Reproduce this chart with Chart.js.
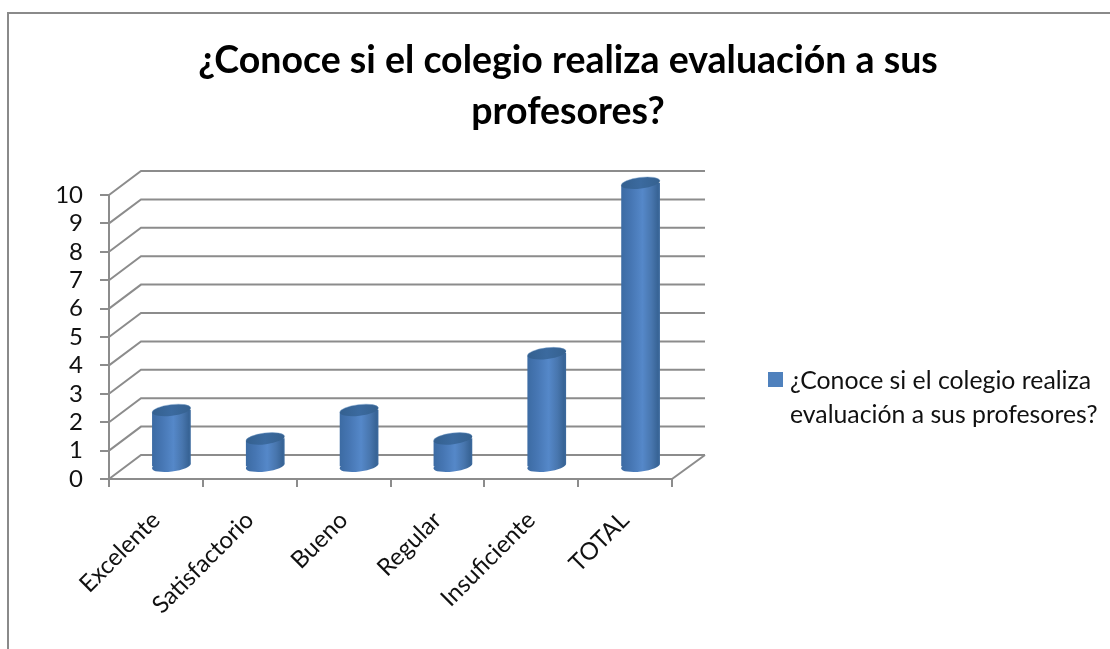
<!DOCTYPE html>
<html><head><meta charset="utf-8">
<script src="https://cdn.jsdelivr.net/npm/chart.js@4"></script>
<style>
html,body{margin:0;padding:0;background:#fff;overflow:hidden}
#frame{position:absolute;left:7px;top:12px;width:1200px;height:800px;border:2px solid #8a8a8a;box-sizing:border-box}
#c{position:absolute;left:26px;top:0}
</style></head><body>
<div id="frame"></div>
<canvas id="c" width="1084" height="649"></canvas>
<script>
const categories = ['Excelente','Satisfactorio','Bueno','Regular','Insuficiente','TOTAL'];
const values = [2,1,2,1,4,10];
const seriesName = '¿Conoce si el colegio realiza evaluación a sus profesores?';
const legendLines = ['¿Conoce si el colegio realiza','evaluación a sus profesores?'];
const titleLines = ['¿Conoce si el colegio realiza evaluación a sus','profesores?'];
const yTicks = [0,1,2,3,4,5,6,7,8,9,10];

const FONT = 'Lato, Carlito, sans-serif';
const GRID = '#8c8c8c';
const INK = '#111';
const DX = 32, DY = -24;          // depth of the floor
const SX = 15.5, SY = -12;        // bars stand mid-depth
const RX = 19.5, RY = 5.6, TILT = -7 * Math.PI / 180;

function endPoints(x, y) {
  const c = Math.cos(TILT) * RX, s = Math.sin(TILT) * RX;
  return {lx: x - c, ly: y - s, rx: x + c, ry: y + s};
}
function tracePath(ctx, bar) {
  const t = endPoints(bar.x, bar.y), b = endPoints(bar.x, bar.base);
  ctx.moveTo(t.lx, t.ly);
  ctx.lineTo(t.rx, t.ry);
  ctx.lineTo(b.rx, b.ry);
  ctx.lineTo(b.lx, b.ly);
  ctx.closePath();
}
function bodyGradient(ctx, px) {
  const g = ctx.createLinearGradient(px - RX, 0, px + RX, 0);
  g.addColorStop(0, '#3c6ba3');
  g.addColorStop(0.25, '#4676b3');
  g.addColorStop(0.55, '#5588c9');
  g.addColorStop(0.78, '#4876ae');
  g.addColorStop(0.94, '#386496');
  g.addColorStop(1, '#3d6b9f');
  return g;
}

const depthPlugin = {
  id: 'depth',
  beforeLayout(chart) {
    if (chart.$legendBox) return;
    const box = {
      position: 'right', weight: 0, fullSize: false, options: {},
      width: 412, height: 0, left: 0, right: 0, top: 0, bottom: 0,
      isHorizontal() { return false; },
      update(maxW, maxH) { this.width = 412 + 26; this.height = maxH; },
      draw() {}
    };
    chart.$legendBox = box;
    Chart.layouts.addBox(chart, box);
  },
  beforeDatasetsDraw(chart) {
    const {ctx, scales: {x, y}} = chart;
    ctx.save();
    ctx.strokeStyle = GRID;
    ctx.lineWidth = 2;
    ctx.lineJoin = 'miter';
    const L = x.left, R = x.right;
    yTicks.forEach(v => {
      const py = y.getPixelForValue(v);
      ctx.beginPath();
      ctx.moveTo(L, py);
      ctx.lineTo(L + DX, py + DY);
      ctx.lineTo(R + DX + 1, py + DY);
      ctx.stroke();
    });
    const p0 = y.getPixelForValue(0);
    ctx.beginPath();
    ctx.moveTo(R + DX + 1, p0 + DY);
    ctx.lineTo(R, p0);
    ctx.stroke();
    ctx.restore();
  },
  beforeDatasetDraw(chart, args) {
    const ctx = chart.ctx;
    ctx.save();
    ctx.translate(SX, SY);
    args.meta.data.forEach(bar => {
      ctx.fillStyle = bodyGradient(ctx, bar.x);
      ctx.beginPath();
      ctx.ellipse(bar.x, bar.base, RX, RY, TILT, 0, Math.PI * 2);
      ctx.fill();
    });
    ctx.beginPath();
    args.meta.data.forEach(bar => tracePath(ctx, bar));
    ctx.clip();
  },
  afterDatasetDraw(chart, args) {
    const ctx = chart.ctx;
    ctx.restore();
    ctx.save();
    ctx.translate(SX, SY);
    args.meta.data.forEach(bar => {
      const g = ctx.createLinearGradient(bar.x - RX, 0, bar.x + RX, 0);
      g.addColorStop(0, '#34608f');
      g.addColorStop(0.5, '#3b6a9f');
      g.addColorStop(1, '#35618f');
      ctx.fillStyle = g;
      ctx.beginPath();
      ctx.ellipse(bar.x, bar.y, RX, RY, TILT, 0, Math.PI * 2);
      ctx.fill();
      ctx.strokeStyle = 'rgba(120,160,205,0.55)';
      ctx.lineWidth = 0.8;
      ctx.beginPath();
      ctx.ellipse(bar.x, bar.y, RX, RY, TILT, Math.PI, Math.PI * 2);
      ctx.stroke();
    });
    ctx.restore();
  },
  afterDraw(chart) {
    const ctx = chart.ctx, off = 26;
    ctx.save();
    ctx.fillStyle = '#4f81bd';
    ctx.fillRect(768 - off, 372, 15, 15);
    ctx.fillStyle = INK;
    ctx.font = '24.8px ' + FONT;
    ctx.textBaseline = 'alphabetic';
    ctx.textAlign = 'left';
    legendLines.forEach((t, i) => ctx.fillText(t, 790 - off, 389 + i * 34));
    ctx.restore();
  }
};

new Chart(document.getElementById('c'), {
  type: 'bar',
  plugins: [depthPlugin],
  data: {
    labels: categories,
    datasets: [{
      label: seriesName,
      data: values,
      clip: false,
      barThickness: 40,
      borderWidth: 0,
      backgroundColor(c) {
        const ch = c.chart;
        if (!ch.chartArea || c.dataIndex === undefined) return '#4f81bd';
        return bodyGradient(ch.ctx, ch.scales.x.getPixelForValue(c.dataIndex));
      }
    }]
  },
  options: {
    responsive: false,
    animation: false,
    layout: {padding: 0},
    plugins: {
      legend: {display: false},
      tooltip: {enabled: false},
      title: {
        display: true,
        text: titleLines,
        color: '#000',
        font: {family: FONT, size: 37.5, weight: 'bold', lineHeight: 51 / 37.5},
        padding: {top: 35.5, bottom: 57.5}
      }
    },
    scales: {
      x: {
        afterFit(s) { s.height = 170; },
        grid: {drawOnChartArea: false, color: GRID, lineWidth: 2, tickLength: 8},
        border: {color: GRID, width: 2},
        ticks: {color: INK, font: {family: FONT, size: 24}, maxRotation: 45, minRotation: 45, autoSkip: false, padding: 19}
      },
      y: {
        min: 0, max: 10,
        afterFit(s) { s.width = 83; },
        afterBuildTicks(s) { s.ticks = yTicks.map(v => ({value: v})); },
        grid: {drawOnChartArea: false, color: GRID, lineWidth: 2, tickLength: 9},
        border: {color: GRID, width: 2},
        ticks: {color: INK, font: {family: FONT, size: 24}, padding: 17, autoSkip: false}
      }
    }
  }
});
</script>
</body></html>
